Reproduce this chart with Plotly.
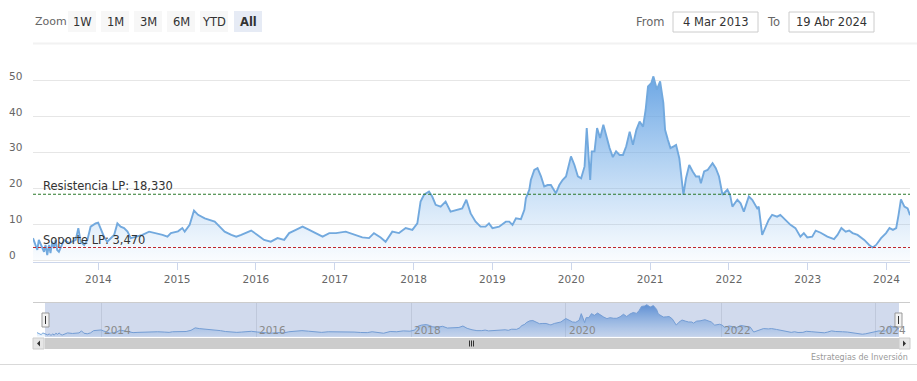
import plotly.graph_objects as go

# ---------------- data ----------------
dates = [
    "2013-03-04", "2013-03-24", "2013-03-31", "2013-04-16", "2013-04-24", "2013-05-01", "2013-05-09",
    "2013-05-17", "2013-05-24", "2013-06-01", "2013-06-09", "2013-06-17", "2013-06-24", "2013-07-02",
    "2013-07-14", "2013-07-26", "2013-08-18", "2013-09-02", "2013-09-18", "2013-09-30", "2013-10-11",
    "2013-10-27", "2013-11-11", "2013-11-26", "2013-12-19", "2013-12-31",
    "2014-01-11", "2014-01-27", "2014-02-11", "2014-02-27", "2014-03-15", "2014-03-30", "2014-04-14",
    "2014-04-30", "2014-05-16", "2014-05-31", "2014-06-23", "2014-07-24", "2014-08-24", "2014-09-24",
    "2014-10-25", "2014-11-17", "2014-12-03",
    "2015-01-05", "2015-01-25", "2015-02-05", "2015-02-28", "2015-03-20", "2015-04-08", "2015-05-09",
    "2015-06-01", "2015-06-24", "2015-07-17", "2015-08-09", "2015-09-09", "2015-10-02", "2015-10-25",
    "2015-11-17", "2015-12-10",
    "2016-01-08", "2016-02-08", "2016-03-10", "2016-04-10", "2016-05-11", "2016-06-03", "2016-07-04",
    "2016-08-04", "2016-09-04", "2016-10-05", "2016-11-05", "2016-12-06",
    "2017-01-06", "2017-02-20", "2017-04-07", "2017-05-08", "2017-06-08", "2017-07-01", "2017-08-01",
    "2017-08-24", "2017-09-24", "2017-10-25", "2017-11-25", "2017-12-26",
    "2018-01-18", "2018-02-02", "2018-02-18", "2018-03-13", "2018-03-28", "2018-04-13", "2018-05-06",
    "2018-05-29", "2018-06-21", "2018-07-22", "2018-08-14", "2018-09-02", "2018-09-22", "2018-10-15",
    "2018-11-07", "2018-11-30", "2018-12-16",
    "2019-01-01", "2019-02-01", "2019-03-04", "2019-03-20", "2019-04-04", "2019-04-20", "2019-05-13",
    "2019-05-29", "2019-06-05", "2019-06-21", "2019-06-28", "2019-07-14", "2019-07-29", "2019-08-14",
    "2019-08-29", "2019-09-14", "2019-09-29", "2019-10-15", "2019-10-22", "2019-11-07", "2019-11-22",
    "2019-12-08", "2019-12-31",
    "2020-01-16", "2020-02-01", "2020-02-16", "2020-03-03", "2020-03-13", "2020-03-29", "2020-04-05",
    "2020-04-18", "2020-04-30", "2020-05-14", "2020-05-29", "2020-06-11", "2020-06-27", "2020-07-12",
    "2020-07-27", "2020-08-12", "2020-08-28", "2020-09-12", "2020-09-28", "2020-10-13", "2020-10-29",
    "2020-11-13", "2020-11-29", "2020-12-11", "2020-12-22",
    "2021-01-06", "2021-01-16", "2021-02-01", "2021-02-16", "2021-03-03", "2021-03-11", "2021-03-24",
    "2021-04-05", "2021-04-20", "2021-05-01", "2021-05-16", "2021-05-24", "2021-06-04", "2021-06-16",
    "2021-07-01", "2021-07-17", "2021-08-01", "2021-08-16", "2021-08-24", "2021-09-08", "2021-09-24",
    "2021-10-17", "2021-11-01", "2021-11-16", "2021-12-02", "2021-12-25",
    "2022-01-06", "2022-01-17", "2022-02-09", "2022-02-24", "2022-03-11", "2022-04-03", "2022-04-19",
    "2022-05-12", "2022-05-19", "2022-06-04", "2022-06-19", "2022-07-04", "2022-07-20", "2022-08-12",
    "2022-08-27", "2022-09-20", "2022-10-13", "2022-11-05", "2022-11-28", "2022-12-14", "2022-12-30",
    "2023-01-22", "2023-02-07", "2023-03-02", "2023-04-02", "2023-05-03", "2023-05-19", "2023-06-06",
    "2023-06-26", "2023-07-12", "2023-07-28", "2023-08-20", "2023-09-20", "2023-10-13", "2023-10-29",
    "2023-11-14", "2023-12-07", "2023-12-30",
    "2024-01-15", "2024-01-31", "2024-02-15", "2024-02-26", "2024-03-08", "2024-03-24", "2024-04-08",
    "2024-04-19",
]
values = [
    6.1, 2.8, 5.6, 3.3, 2.3, 4.2, 1.4,
    4.2, 1.9, 5.1, 3.3, 5.6, 2.8, 2.3,
    4.2, 5.6, 4.7, 5.1, 5.6, 8.9, 5.1,
    4.2, 5.6, 9.3, 10.2, 10.4,
    8.9, 6.5, 5.1, 6.1, 7.0, 10.2, 9.3,
    8.9, 7.9, 6.1, 6.5, 7.0, 7.9, 7.5,
    7.0, 6.5, 7.5,
    8.0, 8.9, 7.9, 9.8, 13.8, 12.6, 11.6,
    11.2, 10.7, 9.3, 7.9, 7.0, 6.5, 7.0,
    7.5, 8.2,
    7.0, 5.6, 5.1, 6.1, 5.6, 7.5, 8.4,
    9.3, 8.4, 7.5, 6.5, 7.5,
    7.5, 7.9, 7.0, 6.3, 6.1, 7.5, 6.3,
    5.1, 7.9, 7.5, 8.9, 8.4,
    10.2, 16.3, 18.2, 19.1, 17.7, 15.4, 14.9,
    16.3, 13.5, 14.0, 14.4, 16.8, 13.0, 10.7,
    9.3, 9.3, 10.2,
    8.9, 9.3, 10.7, 10.7, 9.8, 11.6, 11.4,
    14.0, 17.2, 19.6, 22.3, 25.1, 25.6, 23.3,
    20.5, 20.9, 20.9, 19.1, 18.6, 20.9, 22.3,
    23.3, 28.9,
    26.5, 23.3, 22.8, 26.1, 36.8, 22.3, 30.3,
    30.3, 36.8, 34.0, 37.7, 34.4, 31.2, 28.7,
    30.3, 29.3, 29.3, 31.7, 35.8, 32.1, 36.3,
    38.6, 37.2, 41.9, 48.4,
    49.3, 51.2, 47.5, 49.8, 43.8, 36.3, 33.5,
    31.2, 31.7, 32.1, 28.4, 23.3, 18.2, 22.8,
    26.5, 24.7, 23.3, 23.3, 21.4, 24.7, 25.1,
    27.0, 25.6, 23.3, 18.2, 19.6,
    18.2, 14.9, 16.8, 15.8, 13.5, 17.7, 16.8,
    14.4, 14.9, 7.0, 8.9, 11.2, 12.6, 12.1,
    12.6, 11.2, 9.8, 8.9, 6.5, 7.5, 6.3,
    6.5, 8.2, 7.6, 6.5, 5.8, 7.0, 8.9,
    7.9, 8.2, 7.5, 7.0, 5.6, 4.2, 3.5,
    4.2, 6.1, 7.5,
    8.9, 8.4, 8.9, 12.6, 16.9, 14.9, 14.4,
    12.5,
]

resistance_value = 18.33
support_value = 3.47
resistance_label = "Resistencia LP: 18,330"
support_label = "Soporte LP: 3,470"

y_tick_values = [0, 10, 20, 30, 40, 50]
x_tick_years = [2014, 2015, 2016, 2017, 2018, 2019, 2020, 2021, 2022, 2023, 2024]
nav_tick_years = [2014, 2016, 2018, 2020, 2022, 2024]
zoom_buttons = ["1W", "1M", "3M", "6M", "YTD", "All"]
selected_button = "All"
from_text = "4 Mar 2013"
to_text = "19 Abr 2024"
credit_text = "Estrategias de Inversión"

# ---------------- layout helpers ----------------
W, H = 917, 381


def px(x):
    return x / W


def py(y):
    return 1 - y / H


FONT = "DejaVu Sans"
x_start, x_end = dates[0], dates[-1]

main_left, main_right = 33, 910
main_top, main_bottom = 70, 262
zero_px, fifty_px = 260, 80.7
ppu = (zero_px - fifty_px) / 50.0
y_lo = -(main_bottom - zero_px) / ppu
y_hi = (zero_px - main_top) / ppu

nav_left, nav_right = 45, 899
nav_data_left, nav_data_right = 37, 899
nav_top, nav_bottom = 303, 337

fig = go.Figure()

fig.add_trace(go.Scatter(
    x=dates, y=values, mode="lines",
    line=dict(color="#72a9de", width=1.9),
    fill="tozeroy",
    fillgradient=dict(type="vertical", start=0, stop=52,
                      colorscale=[[0, "rgba(124,181,236,0.04)"],
                                  [1, "rgba(98,160,226,0.95)"]]),
    xaxis="x", yaxis="y", hoverinfo="skip", showlegend=False,
))

fig.add_trace(go.Scatter(
    x=dates, y=values, mode="lines",
    line=dict(color="#7aa8dc", width=1),
    fill="tozeroy",
    fillgradient=dict(type="vertical", start=0, stop=52,
                      colorscale=[[0, "rgba(124,181,236,0.15)"],
                                  [1, "rgba(80,140,215,0.95)"]]),
    xaxis="x2", yaxis="y2", hoverinfo="skip", showlegend=False,
))

shapes = []
annotations = []

for val, col in [(resistance_value, "#2a7a2a"), (support_value, "#c0282d")]:
    shapes.append(dict(type="line", xref="paper", yref="y",
                       x0=px(main_left), x1=px(main_right), y0=val, y1=val,
                       line=dict(color=col, width=1.1, dash="3px,2px"), layer="above"))
annotations.append(dict(text=resistance_label, xref="paper", yref="y",
                        x=px(41), y=resistance_value, xanchor="left", yanchor="bottom",
                        yshift=-1, showarrow=False,
                        font=dict(family=FONT, size=11.5, color="#333333")))
annotations.append(dict(text=support_label, xref="paper", yref="y",
                        x=px(41), y=support_value, xanchor="left", yanchor="bottom",
                        yshift=-1, showarrow=False,
                        font=dict(family=FONT, size=11.5, color="#333333")))

for v in y_tick_values:
    annotations.append(dict(text=str(v), xref="paper", yref="y", x=px(7), y=v,
                            xanchor="left", yanchor="middle", yshift=5, showarrow=False,
                            font=dict(family=FONT, size=10.5, color="#666666")))

# range selector
annotations.append(dict(text="Zoom", xref="paper", yref="paper", x=px(33), y=py(21.5),
                        xanchor="left", yanchor="middle", showarrow=False,
                        font=dict(family=FONT, size=11, color="#666666")))
btn_x = [68, 101, 134, 167, 200, 234]
btn_w = [28, 28, 28, 28, 28, 28]
for label, bx, bw in zip(zoom_buttons, btn_x, btn_w):
    sel = label == selected_button
    shapes.append(dict(type="rect", xref="paper", yref="paper",
                       x0=px(bx), x1=px(bx + bw), y0=py(32), y1=py(11),
                       fillcolor="#e6ebf5" if sel else "#f7f7f7", line=dict(width=0)))
    annotations.append(dict(text=f"<b>{label}</b>" if sel else label, xref="paper", yref="paper",
                            x=px(bx + bw / 2), y=py(21.5), xanchor="center", yanchor="middle",
                            showarrow=False, font=dict(family=FONT, size=11.5, color="#333333")))

annotations.append(dict(text="From", xref="paper", yref="paper", x=px(667), y=py(21.5),
                        xanchor="right", yanchor="middle", showarrow=False,
                        font=dict(family=FONT, size=11.5, color="#666666")))
annotations.append(dict(text="To", xref="paper", yref="paper", x=px(782), y=py(21.5),
                        xanchor="right", yanchor="middle", showarrow=False,
                        font=dict(family=FONT, size=11.5, color="#666666")))
for (x0, x1, txt) in [(673, 758, from_text), (789, 874, to_text)]:
    shapes.append(dict(type="rect", xref="paper", yref="paper",
                       x0=px(x0), x1=px(x1), y0=py(32), y1=py(12),
                       fillcolor="white", line=dict(color="#cccccc", width=1)))
    annotations.append(dict(text=txt, xref="paper", yref="paper", x=px((x0 + x1) / 2), y=py(22),
                            xanchor="center", yanchor="middle", showarrow=False,
                            font=dict(family=FONT, size=11.5, color="#333333")))

shapes.append(dict(type="line", xref="paper", yref="paper", x0=px(33), x1=1,
                   y0=py(43.5), y1=py(43.5), line=dict(color="#f2f2f2", width=2)))

# navigator mask + outline
shapes.append(dict(type="rect", xref="paper", yref="paper",
                   x0=px(nav_left), x1=px(nav_right), y0=py(nav_bottom), y1=py(nav_top),
                   fillcolor="rgba(102,133,194,0.3)", line=dict(width=0), layer="above"))
shapes.append(dict(type="line", xref="paper", yref="paper", x0=px(33), x1=px(910),
                   y0=py(nav_top - 0.5), y1=py(nav_top - 0.5),
                   line=dict(color="#cccccc", width=1)))
for yr in nav_tick_years:
    annotations.append(dict(text=str(yr), xref="x2", yref="paper", x=f"{yr}-01-01", y=py(330),
                            xanchor="left", yanchor="middle", xshift=1, showarrow=False,
                            font=dict(family=FONT, size=10.5, color="#8a8a8a")))
for hx in [nav_left - 3, nav_right - 4]:
    shapes.append(dict(type="rect", xref="paper", yref="paper",
                       x0=px(hx), x1=px(hx + 7), y0=py(327), y1=py(313),
                       fillcolor="#f2f2f2", line=dict(color="#999999", width=1), layer="above"))
    shapes.append(dict(type="line", xref="paper", yref="paper",
                       x0=px(hx + 3.5), x1=px(hx + 3.5), y0=py(324), y1=py(316),
                       line=dict(color="#333333", width=1), layer="above"))

# scrollbar
sb_top, sb_bot = 338, 349
shapes.append(dict(type="rect", xref="paper", yref="paper", x0=px(33), x1=px(910),
                   y0=py(sb_bot), y1=py(sb_top), fillcolor="#f2f2f2", line=dict(width=0)))
shapes.append(dict(type="rect", xref="paper", yref="paper", x0=px(nav_left), x1=px(nav_right),
                   y0=py(sb_bot), y1=py(sb_top), fillcolor="#cccccc", line=dict(width=0)))
for ax0 in [33, 899]:
    shapes.append(dict(type="rect", xref="paper", yref="paper", x0=px(ax0), x1=px(ax0 + 11),
                       y0=py(sb_bot), y1=py(sb_top), fillcolor="#e6e6e6",
                       line=dict(color="#cccccc", width=1)))
cy = (sb_top + sb_bot) / 2
shapes.append(dict(type="path", xref="paper", yref="paper",
                   path=f"M {px(40)} {py(cy - 3)} L {px(40)} {py(cy + 3)} L {px(37)} {py(cy)} Z",
                   fillcolor="#333333", line=dict(width=0)))
shapes.append(dict(type="path", xref="paper", yref="paper",
                   path=f"M {px(903)} {py(cy - 3)} L {px(903)} {py(cy + 3)} L {px(906)} {py(cy)} Z",
                   fillcolor="#333333", line=dict(width=0)))
for gx in [469.5, 471.5, 473.5]:
    shapes.append(dict(type="line", xref="paper", yref="paper", x0=px(gx), x1=px(gx),
                       y0=py(cy - 3), y1=py(cy + 3), line=dict(color="#333333", width=1)))

shapes.append(dict(type="line", xref="paper", yref="paper", x0=0, x1=1,
                   y0=py(364.5), y1=py(364.5), line=dict(color="#d9d9d9", width=1)))
annotations.append(dict(text=credit_text, xref="paper", yref="paper", x=px(910), y=py(357),
                        xanchor="right", yanchor="middle", showarrow=False,
                        font=dict(family=FONT, size=8, color="#999999")))

fig.update_layout(
    width=W, height=H,
    margin=dict(l=0, r=0, t=0, b=0),
    paper_bgcolor="white", plot_bgcolor="rgba(0,0,0,0)",
    showlegend=False,
    shapes=shapes, annotations=annotations,
    xaxis=dict(domain=[px(main_left), px(main_right)], range=[x_start, x_end], anchor="y",
               tickvals=[f"{y}-01-01" for y in x_tick_years], ticktext=[str(y) for y in x_tick_years],
               showgrid=False, ticks="outside", ticklen=7, tickcolor="#ccd6eb",
               showline=True, linecolor="#ccd6eb", linewidth=1, zeroline=False,
               tickfont=dict(family=FONT, size=10.5, color="#666666")),
    yaxis=dict(domain=[py(main_bottom), py(main_top)], range=[y_lo, y_hi], anchor="x",
               tickvals=y_tick_values, showticklabels=False, showgrid=True,
               gridcolor="#e6e6e6", gridwidth=1, zeroline=False, showline=False),
    xaxis2=dict(domain=[px(nav_data_left), px(nav_data_right)], range=[x_start, x_end], anchor="y2",
                tickvals=[f"{y}-01-01" for y in nav_tick_years],
                showgrid=True, gridcolor="#e6e6e6", ticks="", showticklabels=False,
                showline=False, zeroline=False),
    yaxis2=dict(domain=[py(nav_bottom), py(nav_top)], range=[-1, 54], anchor="x2",
                showticklabels=False, showgrid=False, zeroline=False, showline=False),
)

fig.write_html("out.html", config={"displayModeBar": False},
               post_script="document.body.style.margin='0';")
